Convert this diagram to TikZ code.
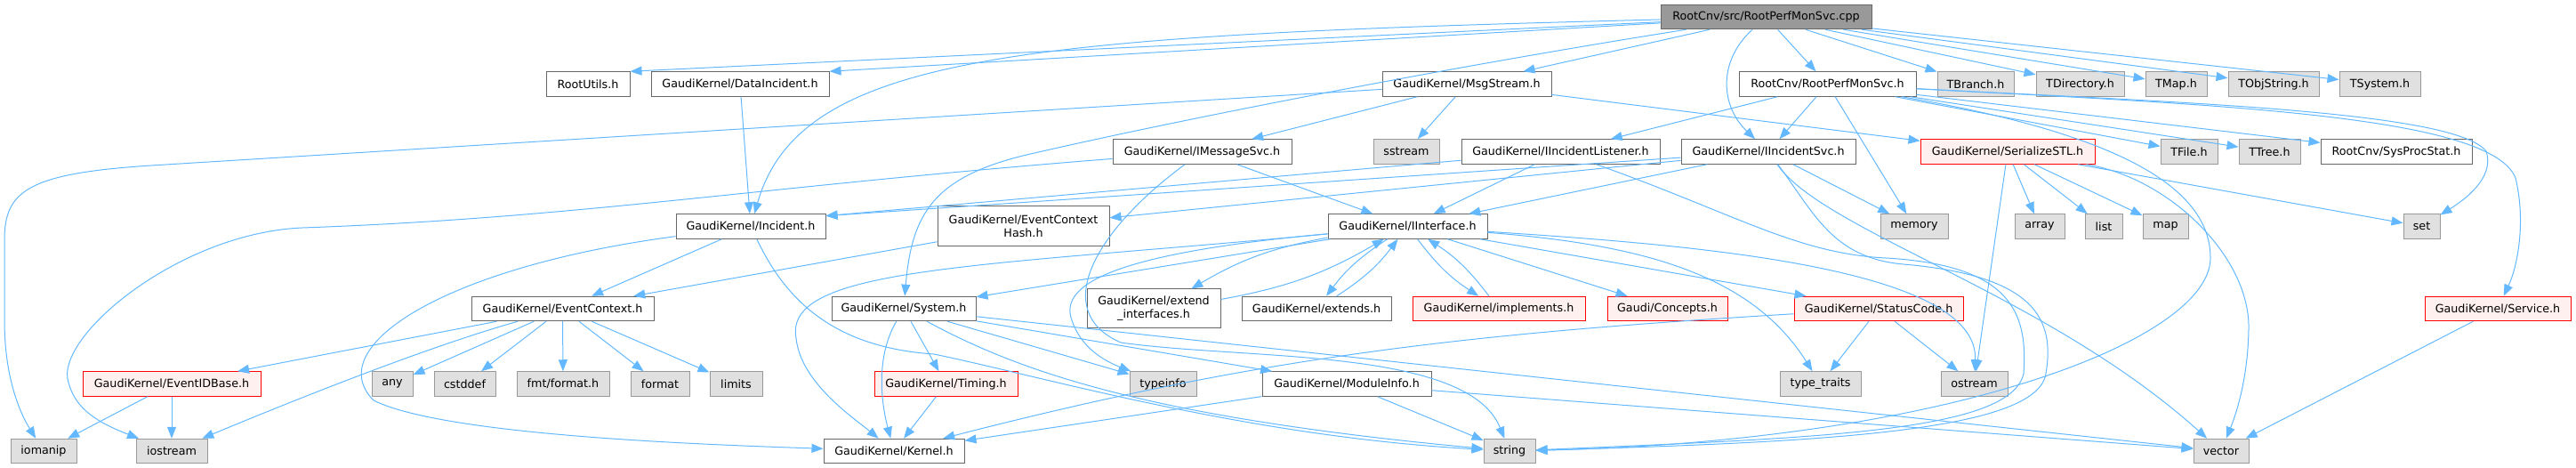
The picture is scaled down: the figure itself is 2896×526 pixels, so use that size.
\documentclass[tikz,border=0pt]{standalone}
\usepackage{fontspec}
\setmainfont{DejaVu Sans}
\usetikzlibrary{arrows.meta, positioning}
\definecolor{edgeblue}{HTML}{63B8FF}
\definecolor{boxline}{HTML}{666666}
\definecolor{extfill}{HTML}{E0E0E0}
\definecolor{extline}{HTML}{999999}
\definecolor{truncfill}{HTML}{FFF0F0}
\definecolor{truncline}{HTML}{FF0000}
\definecolor{srcfill}{HTML}{999999}

\begin{document}
\begin{tikzpicture}[x=1pt, y=-1pt, >={Triangle[length=13pt,width=10pt]},
		font=\fontsize{12.7}{15}\selectfont,
		filebox/.style={draw=boxline, line width=1pt, rectangle, fill=white, minimum height=27.5pt, inner xsep=2pt, inner ysep=0pt},
		hdr/.style={filebox},
		ext/.style={filebox, draw=extline, fill=extfill},
		trunc/.style={filebox, draw=truncline, fill=truncfill},
		srcfile/.style={filebox, fill=srcfill},
		dep/.style={->, draw=edgeblue, line width=1pt}]
				\useasboundingbox (0,0) rectangle (2896,526);

				\node[srcfile, minimum width=237pt] (root) at (1985.5, 19) {RootCnv/src/RootPerfMonSvc.cpp};

				\node[hdr, minimum width=94pt] (rootutils) at (661, 94.5) {RootUtils.h};
				\node[hdr, minimum width=200pt] (dataincident) at (832, 94.5) {GaudiKernel/DataIncident.h};
				\node[hdr, minimum width=190pt] (msgstream) at (1649, 94.5) {GaudiKernel/MsgStream.h};
				\node[hdr, minimum width=199pt] (perfmonh) at (2054.5, 94.5) {RootCnv/RootPerfMonSvc.h};
				\node[ext, minimum width=86pt] (tbranch) at (2221, 94.5) {TBranch.h};
				\node[ext, minimum width=99pt] (tdirectory) at (2338.5, 94.5) {TDirectory.h};
				\node[ext, minimum width=69pt] (tmap) at (2446.5, 94.5) {TMap.h};
				\node[ext, minimum width=102pt] (tobjstring) at (2556, 94.5) {TObjString.h};
				\node[ext, minimum width=91pt] (tsystem) at (2675.5, 94.5) {TSystem.h};

				\node[hdr, minimum width=201pt] (imessagesvc) at (1351.5, 170.5) {GaudiKernel/IMessageSvc.h};
				\node[ext, minimum width=74pt] (sstream) at (1581, 170.5) {sstream};
				\node[hdr, minimum width=223pt] (iinclistener) at (1754.5, 170.5) {GaudiKernel/IIncidentListener.h};
				\node[hdr, minimum width=196pt] (iincsvc) at (1988, 170.5) {GaudiKernel/IIncidentSvc.h};
				\node[trunc, minimum width=196pt] (serializestl) at (2257, 170.5) {GaudiKernel/SerializeSTL.h};
				\node[ext, minimum width=64pt] (tfile) at (2461, 170.5) {TFile.h};
				\node[ext, minimum width=69pt] (ttree) at (2551.5, 170.5) {TTree.h};
				\node[hdr, minimum width=170pt] (sysprocstat) at (2694, 170.5) {RootCnv/SysProcStat.h};

				\node[hdr, minimum width=168pt] (incident) at (844, 254.5) {GaudiKernel/Incident.h};
				\node[hdr, minimum width=193pt, minimum height=45pt, align=center] (evctxhash) at (1150.5, 254.5) {GaudiKernel/EventContext\\Hash.h};
				\node[hdr, minimum width=179pt] (iinterface) at (1582.5, 254.5) {GaudiKernel/IInterface.h};
				\node[ext, minimum width=76pt] (memory) at (2152, 254.5) {memory};
				\node[ext, minimum width=56pt] (array) at (2293, 254.5) {array};
				\node[ext, minimum width=42pt] (list) at (2365, 254.5) {list};
				\node[ext, minimum width=51pt] (map) at (2434.5, 254.5) {map};
				\node[ext, minimum width=41pt] (set) at (2722.5, 254.5) {set};

				\node[hdr, minimum width=205pt] (evcontext) at (632.5, 347) {GaudiKernel/EventContext.h};
				\node[hdr, minimum width=162pt] (system) at (1016, 347) {GaudiKernel/System.h};
				\node[hdr, minimum width=150pt, minimum height=44pt, align=center] (extendif) at (1297, 347) {GaudiKernel/extend\\\_interfaces.h};
				\node[hdr, minimum width=168pt] (extends) at (1480, 347) {GaudiKernel/extends.h};
				\node[trunc, minimum width=194pt] (implements) at (1685, 347) {GaudiKernel/implements.h};
				\node[trunc, minimum width=135pt] (concepts) at (1874.5, 347) {Gaudi/Concepts.h};
				\node[trunc, minimum width=190pt] (statuscode) at (2112, 347) {GaudiKernel/StatusCode.h};
				\node[trunc, minimum width=164pt] (service) at (2808, 347) {GaudiKernel/Service.h};

				\node[trunc, minimum width=200pt] (evidbase) at (193, 431.5) {GaudiKernel/EventIDBase.h};
				\node[ext, minimum width=46pt] (any) at (441, 431.5) {any};
				\node[ext, minimum width=69pt] (cstddef) at (522.5, 431.5) {cstddef};
				\node[ext, minimum width=104pt] (fmtformat) at (633, 431.5) {fmt/format.h};
				\node[ext, minimum width=66pt] (format) at (742, 431.5) {format};
				\node[ext, minimum width=59pt] (limits) at (827.5, 431.5) {limits};
				\node[trunc, minimum width=161pt] (timing) at (1063.5, 431.5) {GaudiKernel/Timing.h};
				\node[ext, minimum width=75pt] (typeinfo) at (1307.5, 431.5) {typeinfo};
				\node[hdr, minimum width=190pt] (moduleinfo) at (1514, 431.5) {GaudiKernel/ModuleInfo.h};
				\node[ext, minimum width=91pt] (typetraits) at (2046.5, 431.5) {type\_traits};
				\node[ext, minimum width=75pt] (ostream) at (2219.5, 431.5) {ostream};

				\node[ext, minimum width=74pt] (iomanip) at (49, 507) {iomanip};
				\node[ext, minimum width=80pt] (iostream) at (193, 507) {iostream};
				\node[hdr, minimum width=158pt] (kernel) at (1005, 507) {GaudiKernel/Kernel.h};
				\node[ext, minimum width=58pt] (string) at (1697, 507) {string};
				\node[ext, minimum width=62pt] (vector) at (2497, 507) {vector};

				\draw[dep] (root) -- (rootutils.north east);
				\draw[dep] (root) -- (dataincident.north east);
				\draw[dep] (root) .. controls (1150,40) and (900,60) .. (incident);
				\draw[dep] (root) -- (msgstream);
				\draw[dep] (root) .. controls (1600,80) and (1300,140) .. (1150,175) .. controls (1050,200) and (1025,240) .. (system);
				\draw[dep] (root) .. controls (1930,70) and (1935,120) .. (iincsvc);
				\draw[dep] (root) -- (perfmonh);
				\draw[dep] (root) -- (tbranch);
				\draw[dep] (root) -- (tdirectory);
				\draw[dep] (root) -- (tmap);
				\draw[dep] (root) -- (tobjstring);
				\draw[dep] (root) -- (tsystem);

				\draw[dep] (dataincident) -- (incident);

				\draw[dep] (msgstream) -- (170,186) .. controls (30,195) and (5,215) .. (5,270) -- (5,360) .. controls (5,420) and (20,460) .. (iomanip);
				\draw[dep] (msgstream) -- (sstream);
				\draw[dep] (msgstream) -- (imessagesvc);
				\draw[dep] (msgstream) -- (serializestl);

				\draw[dep] (perfmonh) -- (iinclistener);
				\draw[dep] (perfmonh) -- (iincsvc);
				\draw[dep] (perfmonh) -- (memory);
				\draw[dep] (perfmonh) -- (tfile);
				\draw[dep] (perfmonh) -- (ttree);
				\draw[dep] (perfmonh) -- (sysprocstat);
				\draw[dep] (perfmonh) .. controls (2450,115) and (2760,125) .. (2795,170) .. controls (2805,200) and (2770,225) .. (set);
				\draw[dep] (perfmonh) .. controls (2500,118) and (2800,130) .. (2828,200) .. controls (2840,250) and (2830,300) .. (service);
				\draw[dep] (perfmonh) .. controls (2380,150) and (2485,210) .. (2485,290) .. controls (2485,380) and (2200,495) .. (string);

				\draw[dep] (imessagesvc) -- (iinterface);
				\draw[dep] (imessagesvc) .. controls (850,210) and (650,245) .. (340,256) .. controls (200,262) and (60,380) .. (77,430) .. controls (85,460) and (110,475) .. (iostream);
				\draw[dep] (imessagesvc) .. controls (1230,260) and (1180,350) .. (1260,385) .. controls (1400,405) and (1650,390) .. (string);

				\draw[dep] (iinclistener) -- (incident.8);
				\draw[dep] (iinclistener) -- (iinterface);
				\draw[dep] (iinclistener) .. controls (1950,240) and (2020,285) .. (2120,290) .. controls (2260,298) and (2280,350) .. (2275,420) .. controls (2260,485) and (2050,492) .. (string);

				\draw[dep] (iincsvc) -- (incident.8);
				\draw[dep] (iincsvc) -- (evctxhash);
				\draw[dep] (iincsvc) -- (iinterface);
				\draw[dep] (iincsvc) -- (memory);
				\draw[dep] (iincsvc) .. controls (2040,240) and (2060,290) .. (2140,297) .. controls (2290,310) and (2310,360) .. (2300,420) .. controls (2290,485) and (2050,497) .. (string);
				\draw[dep] (iincsvc) .. controls (2050,260) and (2300,330) .. (vector);

				\draw[dep] (serializestl) -- (array);
				\draw[dep] (serializestl) -- (list);
				\draw[dep] (serializestl) -- (map);
				\draw[dep] (serializestl) -- (set);
				\draw[dep] (serializestl) -- (ostream);
				\draw[dep] (serializestl) .. controls (2440,200) and (2530,290) .. (2528,370) .. controls (2527,430) and (2512,470) .. (vector);

				\draw[dep] (incident) -- (evcontext);
				\draw[dep] (incident) .. controls (500,300) and (360,390) .. (420,450) .. controls (500,490) and (800,500) .. (kernel);
				\draw[dep] (incident) .. controls (880,330) and (930,390) .. (1050,398) .. controls (1180,425) and (1400,490) .. (string);

				\draw[dep] (evctxhash) -- (evcontext);

				\draw[dep] (evcontext) -- (evidbase);
				\draw[dep] (evcontext) -- (any);
				\draw[dep] (evcontext) -- (cstddef);
				\draw[dep] (evcontext) -- (fmtformat);
				\draw[dep] (evcontext) -- (format);
				\draw[dep] (evcontext) -- (limits);
				\draw[dep] (evcontext) .. controls (480,390) and (330,450) .. (iostream);

				\draw[dep] (evidbase) -- (iomanip);
				\draw[dep] (evidbase) -- (iostream);

				\draw[dep] (iinterface) -- (system);
				\draw[dep] (iinterface) .. controls (1100,300) and (880,300) .. (895,380) .. controls (900,430) and (960,470) .. (kernel);
				\draw[dep] (iinterface) .. controls (1250,285) and (1190,320) .. (1205,360) .. controls (1215,390) and (1240,405) .. (typeinfo);
				\draw[dep] (iinterface) to[bend right=10] (extendif);
				\draw[dep] (extendif) to[bend right=10] (iinterface);
				\draw[dep] (iinterface) to[bend right=10] (extends);
				\draw[dep] (extends) to[bend right=10] (iinterface);
				\draw[dep] (iinterface) to[bend right=10] (implements);
				\draw[dep] (implements) to[bend right=10] (iinterface);
				\draw[dep] (iinterface) -- (concepts);
				\draw[dep] (iinterface) -- (statuscode);
				\draw[dep] (iinterface) .. controls (1850,275) and (1970,310) .. (typetraits);
				\draw[dep] (iinterface) .. controls (1900,275) and (2225,300) .. (ostream);

				\draw[dep] (system) .. controls (985,400) and (990,450) .. (kernel);
				\draw[dep] (system) -- (timing);
				\draw[dep] (system) -- (typeinfo);
				\draw[dep] (system) -- (moduleinfo);
				\draw[dep] (system) .. controls (1150,420) and (1300,470) .. (string);
				\draw[dep] (system) -- (vector);

				\draw[dep] (timing) -- (kernel);

				\draw[dep] (moduleinfo) -- (kernel);
				\draw[dep] (moduleinfo) -- (string);
				\draw[dep] (moduleinfo) -- (vector);

				\draw[dep] (statuscode) .. controls (1650,375) and (1420,400) .. (kernel);
				\draw[dep] (statuscode) -- (typetraits);
				\draw[dep] (statuscode) -- (ostream);

				\draw[dep] (service) -- (vector);
			\end{tikzpicture}
\end{document}
